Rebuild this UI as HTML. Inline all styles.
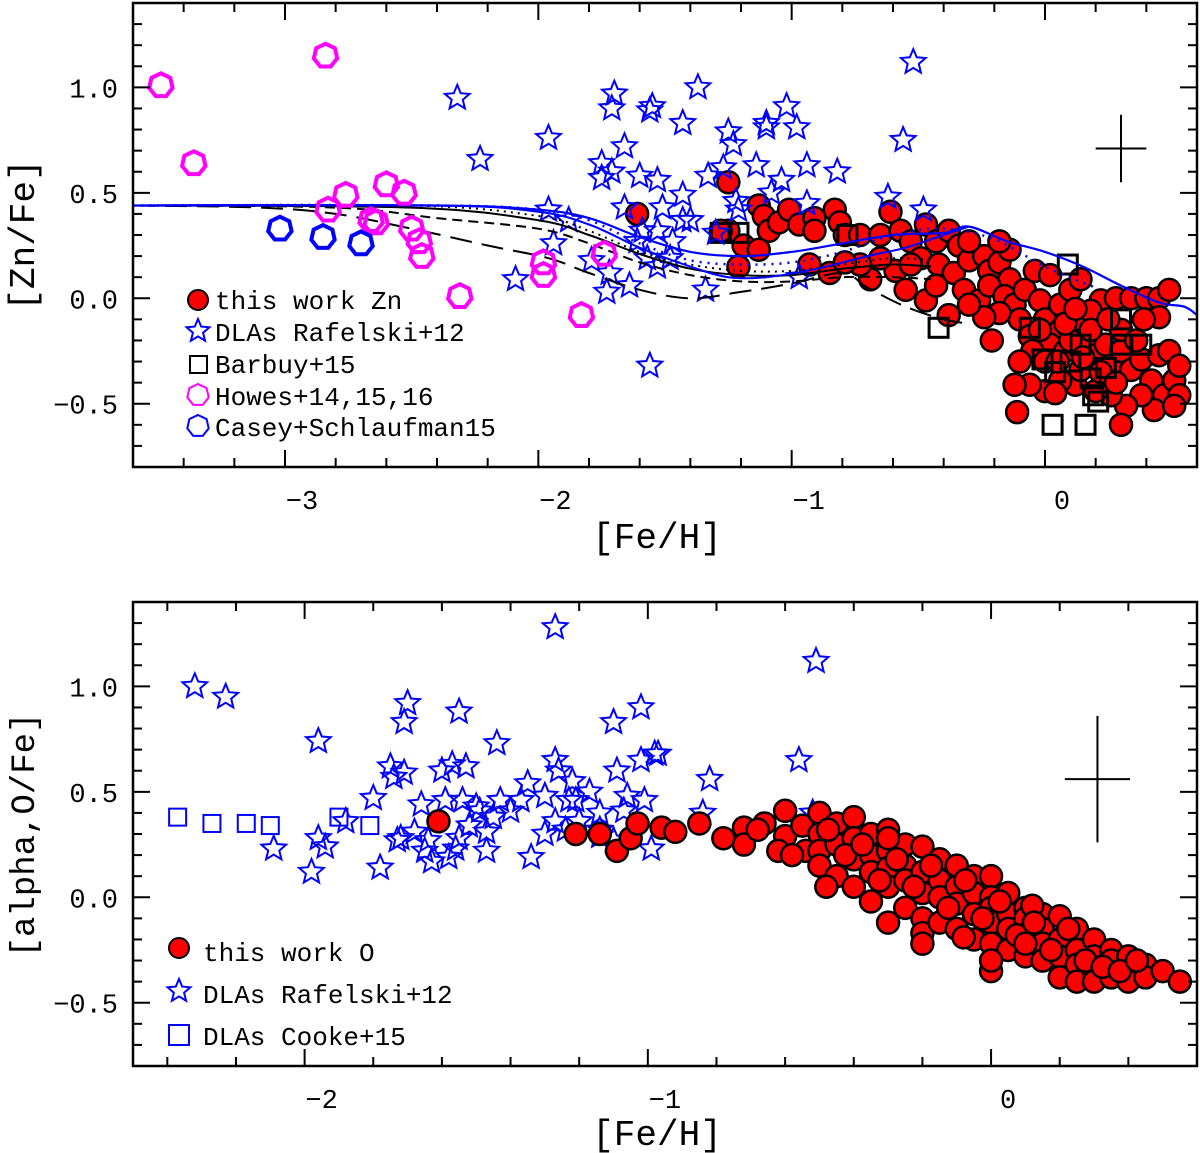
<!DOCTYPE html>
<html><head><meta charset="utf-8"><style>
html,body{margin:0;padding:0;background:#fff;}
svg{display:block;}
text{font-family:"Liberation Mono","DejaVu Sans Mono",monospace;fill:#000;}
</style></head><body>
<svg id="chart" width="1200" height="1153" viewBox="0 0 1200 1153" xmlns="http://www.w3.org/2000/svg"></svg>
<script>
// ---------- TOP PANEL DATA ([Zn/Fe] vs [Fe/H]) ----------
const topXTicks = [-3, -2, -1, 0];
const topXTickLabels = ["\u22123", "\u22122", "\u22121", "0"];
const topYTicks = [-0.5, 0.0, 0.5, 1.0];
const topYTickLabels = ["\u22120.5", "0.0", "0.5", "1.0"];

const topRedX = [-1.61,-1.25,-1.25,-1.19,-1.21,-1.13,-1.11,-1.09,-1.05,-1.01,-0.97,-0.91,-0.93,-0.85,-0.91,-0.83,-0.81,-0.79,-0.73,-0.61,-0.65,-0.57,-0.53,-0.47,-0.43,-0.38,-0.34,-0.49,-0.42,-0.36,-0.30,-0.24,-0.22,-0.18,-0.14,-0.59,-0.55,-0.47,-0.38,-0.43,-0.32,-0.26,-0.22,-0.16,-0.12,-0.08,-0.02,-0.10,-0.06,0,0.06,0.02,0.08,0.12,0.16,0.20,0.24,0.26,0.30,0.34,0.38,0.42,0.45,0.47,0.51,0.43,0.38,0.32,0.26,0.20,0.12,0.06,0,-0.06,-0.12,0.14,0.22,0.28,0.34,0.40,0.45,0.49,0.45,0.49,0.53,0.53,-0.21,-0.11,0.30,0.51,0.39,0.30,0.18,0.06,0.10,0.14,-0.04,0.02,-0.14,-0.18,-0.30,-0.65,-0.69,-0.53,-0.73,-0.79,-1.28,-1.13,-0.18,-0.24,-0.30,
 -0.05,0.0,0.05,0.10,0.15,0.22,-0.02,0.08,0.18,0.28,0.36,-0.1,0.04,0.12,0.25];
const topRedY = [0.40,0.55,0.32,0.25,0.15,0.44,0.39,0.32,0.36,0.42,0.35,0.38,0.16,0.12,0.32,0.42,0.36,0.30,0.30,0.41,0.30,0.32,0.27,0.35,0.27,0.32,0.25,0.19,0.16,0.12,0.18,0.20,0.13,0.17,0.09,0.13,0.04,-0.01,-0.08,0.06,0.04,-0.01,0.06,0.01,-0.03,0.04,-0.01,-0.10,-0.18,-0.10,-0.15,-0.22,-0.25,-0.10,-0.20,-0.27,-0.22,-0.32,-0.25,-0.34,-0.29,-0.39,-0.27,-0.46,-0.39,-0.53,-0.46,-0.51,-0.46,-0.44,-0.41,-0.39,-0.44,-0.41,-0.41,-0.34,-0.01,0,0,0,0,0.04,-0.09,-0.25,-0.32,-0.46,-0.20,-0.54,-0.60,-0.51,-0.10,-0.15,-0.06,-0.03,0.04,0.09,0.13,0.11,0.23,0.27,0.27,0.19,0.09,0.16,0.16,0.17,0.32,0.23,-0.07,-0.09,-0.03,
 -0.25,-0.30,-0.30,-0.20,-0.28,-0.35,-0.15,-0.12,-0.15,-0.40,-0.20,-0.30,-0.45,-0.05,-0.10];

const topStarX = [-2.32,-2.23,-1.96,-1.70,-1.71,-1.56,-1.55,-1.43,-1.37,-1.66,-1.75,-1.71,-1.75,-1.60,-1.53,-1.43,-1.66,-1.51,-1.96,-1.88,-1.94,-2.09,-1.73,-1.64,-1.72,-1.79,-1.59,-1.53,-1.47,-1.40,-1.43,-1.57,-1.53,-1.48,-1.34,-1.25,-1.23,-1.33,-1.27,-1.14,-1.10,-1.02,-0.98,-1.04,-0.94,-0.82,-0.94,-1.08,-0.97,-0.62,-1.22,-1.30,-1.21,-1.61,-1.56,-0.52,-0.56,-0.48,-1.10];
const topStarY = [0.95,0.66,0.76,0.97,0.90,0.89,0.91,0.83,1.00,0.72,0.64,0.60,0.57,0.58,0.56,0.49,0.43,0.43,0.42,0.37,0.26,0.09,0.03,0.06,0.12,0.18,0.32,0.32,0.27,0.37,0.37,0.19,0.15,0.19,0.04,0.79,0.73,0.58,0.62,0.63,0.83,0.91,0.81,0.56,0.63,0.60,0.45,0.50,0.10,0.48,0.46,0.31,0.42,0.27,-0.32,1.12,0.75,0.42,0.81];

const topSquareX = [-1.28,-1.21,-0.78,-0.42,0.09,-0.01,0.04,0.03,0.16,0.19,0.21,0.10,0.14,0.30,0.38,0.30,-0.06,0.18,0.24];
const topSquareY = [0.31,0.31,0.30,-0.14,0.16,-0.29,-0.35,-0.60,-0.60,-0.46,-0.49,-0.30,-0.22,-0.22,-0.22,-0.10,-0.14,-0.38,-0.33];

const howesX = [-3.49,-2.84,-3.36,-2.83,-2.76,-2.60,-2.53,-2.64,-2.66,-2.50,-2.47,-2.46,-2.31,-1.98,-1.98,-1.74,-1.83];
const howesY = [1.01,1.15,0.64,0.42,0.49,0.54,0.50,0.36,0.37,0.33,0.27,0.20,0.01,0.17,0.11,0.21,-0.08];

const caseyX = [-3.02,-2.85,-2.70];
const caseyY = [0.33,0.29,0.26];

// model curves (x, y) pairs
const modelBlueAX = [-3.6,-2.4,-2.0,-1.8,-1.6,-1.4,-1.2,-1.0,-0.8,-0.6,-0.4,-0.3,-0.15,0,0.15,0.3,0.45,0.55,0.6];
const modelBlueAY = [0.44,0.44,0.42,0.38,0.29,0.22,0.20,0.22,0.26,0.30,0.31,0.34,0.27,0.22,0.15,0.06,-0.02,-0.04,-0.08];
const modelBlueBX = [-3.6,-2.4,-2.0,-1.8,-1.6,-1.4,-1.25,-1.1,-0.9,-0.7,-0.55,-0.4,-0.3];
const modelBlueBY = [0.44,0.44,0.41,0.35,0.24,0.15,0.10,0.10,0.14,0.20,0.24,0.30,0.34];
const modelBlueDotX = [-3.6,-2.4,-2.0,-1.8,-1.6,-1.4,-1.2,-1.0,-0.8,-0.6,-0.4,-0.2,0,0.2];
const modelBlueDotY = [0.44,0.44,0.42,0.37,0.26,0.18,0.16,0.17,0.22,0.30,0.33,0.28,0.15,0.05];
const modelBlackSolidX = [-3.6,-2.5,-2.0,-1.8,-1.6,-1.4,-1.2,-1.0,-0.8,-0.6,-0.45];
const modelBlackSolidY = [0.44,0.43,0.37,0.30,0.21,0.14,0.11,0.11,0.14,0.16,0.15];
const modelBlackDotX = [-3.6,-2.5,-2.0,-1.8,-1.6,-1.4,-1.2,-1.0,-0.8,-0.6,-0.45];
const modelBlackDotY = [0.44,0.44,0.39,0.32,0.22,0.16,0.13,0.13,0.16,0.19,0.18];
const modelBlackDashX = [-3.6,-2.8,-2.4,-2.0,-1.8,-1.6,-1.4,-1.2,-1.0,-0.8,-0.6,-0.45];
const modelBlackDashY = [0.44,0.43,0.38,0.33,0.26,0.17,0.11,0.08,0.08,0.10,0.10,0.09];
const modelBlackLongX = [-3.6,-3.1,-2.8,-2.5,-2.2,-1.96,-1.8,-1.6,-1.4,-1.2,-1.0,-0.8,-0.7,-0.55,-0.4,-0.3];
const modelBlackLongY = [0.44,0.43,0.40,0.33,0.25,0.19,0.12,0.04,0.00,0.03,0.07,0.12,0.05,-0.04,-0.10,-0.12];

// ---------- BOTTOM PANEL DATA ([alpha,O/Fe] vs [Fe/H]) ----------
const botXTicks = [-2, -1, 0];
const botXTickLabels = ["\u22122", "\u22121", "0"];
const botYTicks = [-0.5, 0.0, 0.5, 1.0];
const botYTickLabels = ["\u22120.5", "0.0", "0.5", "1.0"];

const botStarX = [-2.32,-2.23,-1.96,-1.70,-1.71,-1.55,-1.80,-1.75,-1.74,-1.71,-1.66,-1.60,-1.57,-1.53,-1.59,-1.54,-1.50,-1.88,-2.09,-1.96,-1.94,-1.98,-1.78,-1.72,-1.73,-1.65,-1.63,-1.55,-1.58,-1.56,-1.27,-0.51,-0.56,-0.82,-0.98,-1.02,-1.10,-1.44,-1.35,-1.30,-1.27,-1.26,-1.22,-1.21,-1.17,-1.09,-1.06,-1.02,-1.01,-0.97,-0.99,-1.07,-1.10,-1.37,-1.40,-1.47,-1.47,-1.45,-1.34,-1.23,-1.20,-1.14,-1.14,-1.64,-1.68,-1.52,-1.49,-1.43,-1.27,-1.14,-0.84,-0.52,-1.30,-1.24];
const botStarY = [1.00,0.95,0.74,0.92,0.83,0.88,0.47,0.62,0.57,0.59,0.44,0.60,0.63,0.62,0.46,0.46,0.43,0.36,0.23,0.28,0.24,0.12,0.14,0.28,0.27,0.22,0.17,0.28,0.19,0.23,1.28,1.12,0.65,0.56,0.68,0.90,0.83,0.73,0.54,0.48,0.65,0.60,0.55,0.46,0.50,0.60,0.48,0.65,0.46,0.68,0.23,0.41,0.27,0.46,0.41,0.31,0.22,0.38,0.19,0.46,0.36,0.32,0.40,0.27,0.31,0.34,0.41,0.46,0.36,0.29,0.40,0.40,0.30,0.32];

const cookeX = [-2.37,-2.27,-2.17,-2.10,-1.90,-1.81];
const cookeY = [0.38,0.35,0.35,0.34,0.38,0.34];

const botRedX = [-1.61,-1.09,-1.21,-1.14,-1.05,-1.03,-0.96,-0.92,-0.85,-0.72,-0.72,-0.66,-0.60,-0.60,-0.55,-0.54,-0.78,-0.68,-0.62,-0.58,
 -0.5,-0.5,-0.5,-0.5,-0.45,-0.45,-0.45,-0.40,-0.40,-0.40,-0.40,-0.35,-0.35,-0.35,-0.35,-0.30,-0.30,-0.30,-0.30,-0.30,
 -0.25,-0.25,-0.25,-0.25,-0.20,-0.20,-0.20,-0.20,-0.20,-0.15,-0.15,-0.15,-0.15,-0.10,-0.10,-0.10,-0.10,-0.05,-0.05,-0.05,-0.05,
 0,0,0,0,0,0,0.05,0.05,0.05,0.05,0.10,0.10,0.10,0.10,0.15,0.15,0.15,0.15,0.20,0.20,0.20,0.20,0.25,0.25,0.25,0.25,
 0.30,0.30,0.30,0.30,0.35,0.35,0.35,0.40,0.40,0.40,0.45,0.45,0.50,0.55,-0.08,0.12,
 -0.475,-0.425,-0.375,-0.325,-0.275,-0.225,-0.175,-0.125,-0.075,-0.025,0.025,0.075,0.125,0.175,0.225,0.275,0.325,0.375,0.425,-0.2,0.1,-0.48,-0.3,0.0];
const botRedY = [0.36,0.22,0.30,0.30,0.28,0.35,0.33,0.31,0.35,0.33,0.25,0.35,0.41,0.29,0.34,0.22,0.28,0.32,0.22,0.20,
 0.40,0.30,0.22,0.15,0.35,0.25,0.10,0.38,0.28,0.18,0.05,0.30,0.20,0.12,-0.02,0.32,0.22,0.14,0.05,-0.12,
 0.25,0.15,0.08,-0.05,0.24,0.12,0.02,-0.10,-0.17,0.18,0.08,0.00,-0.12,0.15,0.05,-0.03,-0.15,0.10,0.02,-0.08,-0.20,
 0.10,0.00,-0.05,-0.12,-0.22,-0.35,0.02,-0.08,-0.15,-0.25,-0.05,-0.10,-0.18,-0.28,-0.08,-0.15,-0.22,-0.30,-0.09,-0.20,-0.28,-0.38,-0.15,-0.25,-0.32,-0.40,
 -0.20,-0.28,-0.35,-0.40,-0.25,-0.30,-0.38,-0.28,-0.35,-0.40,-0.32,-0.38,-0.35,-0.40,-0.19,-0.04,
 0.32,0.20,0.25,0.08,0.18,0.05,0.15,-0.05,0.08,-0.10,-0.02,-0.18,-0.12,-0.25,-0.15,-0.30,-0.33,-0.35,-0.30,-0.22,-0.22,0.05,0.28,-0.30];

// ---------- RENDERING ----------
const NS = "http://www.w3.org/2000/svg";
const svg = document.getElementById("chart");
function mk(tag, attrs, parent) {
  const e = document.createElementNS(NS, tag);
  for (const k in attrs) e.setAttribute(k, attrs[k]);
  (parent || svg).appendChild(e);
  return e;
}
function makeScale(d0, d1, p0, p1) { return v => p0 + (v - d0) * (p1 - p0) / (d1 - d0); }

const topP = {x0:133, x1:1197, y0:3, y1:467, xmin:-3.6, xmax:0.6, ymin:-0.8, ymax:1.4};
const botP = {x0:133, x1:1197, y0:602, y1:1066, xmin:-2.5, xmax:0.6, ymin:-0.8, ymax:1.4};
[topP, botP].forEach(p => {
  p.sx = makeScale(p.xmin, p.xmax, p.x0, p.x1);
  p.sy = makeScale(p.ymin, p.ymax, p.y1, p.y0);
});

function drawAxes(p, g, xt, xl, yt, yl) {
  const fr = mk("rect", {x:p.x0, y:p.y0, width:p.x1-p.x0, height:p.y1-p.y0, fill:"none", stroke:"#000", "stroke-width":2.5}, g);
  
  
  const nx0 = Math.ceil(p.xmin / 0.2 - 1e-6), nx1 = Math.floor(p.xmax / 0.2 + 1e-6);
  for (let i = nx0; i <= nx1; i++) {
    const v = i * 0.2, px = p.sx(v);
    const major = Math.abs(v - Math.round(v)) < 1e-6;
    const L = major ? 17 : 9;
    mk("line", {x1:px, x2:px, y1:p.y1, y2:p.y1-L, stroke:"#000", "stroke-width":2}, g);
    mk("line", {x1:px, x2:px, y1:p.y0, y2:p.y0+L, stroke:"#000", "stroke-width":2}, g);
  }
  const ny0 = Math.ceil(p.ymin / 0.1 - 1e-6), ny1 = Math.floor(p.ymax / 0.1 + 1e-6);
  for (let i = ny0; i <= ny1; i++) {
    const v = i * 0.1, py = p.sy(v);
    const major = Math.abs(v * 2 - Math.round(v * 2)) < 1e-6;
    const L = major ? 17 : 9;
    mk("line", {x1:p.x0, x2:p.x0+L, y1:py, y2:py, stroke:"#000", "stroke-width":2}, g);
    mk("line", {x1:p.x1, x2:p.x1-L, y1:py, y2:py, stroke:"#000", "stroke-width":2}, g);
  }
  xt.forEach((v, i) => {
    const t = mk("text", {x:p.sx(v)+17, y:p.y1+42, "font-size":27, "text-anchor":"middle"}, g);
    t.textContent = xl[i];
    
    
  });
  yt.forEach((v, i) => {
    const t = mk("text", {x:118, y:p.sy(v)+10, "font-size":27, "text-anchor":"end"}, g);
    t.textContent = yl[i];
    
    
  });
}

function starPath(cx, cy, R) {
  const r = R * 0.45; let d = "";
  for (let i = 0; i < 10; i++) {
    const a = -Math.PI/2 + i * Math.PI/5, rr = i % 2 ? r : R;
    d += (i ? "L" : "M") + (cx + rr*Math.cos(a)).toFixed(1) + "," + (cy + rr*Math.sin(a)).toFixed(1);
  }
  return d + "Z";
}
function heptPath(cx, cy, R) {
  let d = "";
  for (let i = 0; i < 7; i++) {
    const a = -Math.PI/2 + i * 2*Math.PI/7;
    d += (i ? "L" : "M") + (cx + R*Math.cos(a)).toFixed(1) + "," + (cy + R*Math.sin(a)).toFixed(1);
  }
  return d + "Z";
}
function drawStars(p, xs, ys, g) {
  xs.forEach((x, i) => {
    const s = mk("path", {d:starPath(p.sx(x), p.sy(ys[i]), 13), fill:"none", stroke:"#0000ff", "stroke-width":2}, g);
    
    
  });
}
function drawReds(p, xs, ys, g) {
  xs.forEach((x, i) => {
    const c = mk("circle", {cx:p.sx(x), cy:p.sy(ys[i]), r:11, fill:"#ff0000", stroke:"#000", "stroke-width":2.5}, g);
    
    
  });
}
function drawSquares(p, xs, ys, g, col, sw, sz) {
  xs.forEach((x, i) => {
    const q = mk("rect", {x:p.sx(x)-sz/2, y:p.sy(ys[i])-sz/2, width:sz, height:sz, fill:"none", stroke:col, "stroke-width":sw}, g);
    
    
  });
}
function drawHepts(p, xs, ys, g, col, name) {
  xs.forEach((x, i) => {
    const h = mk("path", {d:heptPath(p.sx(x), p.sy(ys[i]), 12), fill:"none", stroke:col, "stroke-width":4}, g);
    
    
  });
}
function drawCurve(p, xs, ys, g, col, dash, name, w) {
  const pts = xs.map((x, i) => [p.sx(x), p.sy(ys[i])]);
  let d = "M" + pts[0][0] + "," + pts[0][1];
  for (let i = 0; i < pts.length - 1; i++) {
    const p0 = pts[Math.max(0, i-1)], p1 = pts[i], p2 = pts[i+1], p3 = pts[Math.min(pts.length-1, i+2)];
    const c1 = [p1[0] + (p2[0]-p0[0])/6, p1[1] + (p2[1]-p0[1])/6];
    const c2 = [p2[0] - (p3[0]-p1[0])/6, p2[1] - (p3[1]-p1[1])/6];
    d += "C" + c1[0].toFixed(1) + "," + c1[1].toFixed(1) + " " + c2[0].toFixed(1) + "," + c2[1].toFixed(1) + " " + p2[0].toFixed(1) + "," + p2[1].toFixed(1);
  }
  const a = {d:d, fill:"none", stroke:col, "stroke-width":w || 2};
  if (dash) a["stroke-dasharray"] = dash;
  const e = mk("path", a, g);
  
  
}
function drawCross(p, cx, cy, hx, hy, g) {
  const c = mk("g", {stroke:"#000", "stroke-width":2}, g);
  
  
  mk("line", {x1:p.sx(cx-hx), x2:p.sx(cx+hx), y1:p.sy(cy), y2:p.sy(cy)}, c);
  mk("line", {x1:p.sx(cx), x2:p.sx(cx), y1:p.sy(cy-hy), y2:p.sy(cy+hy)}, c);
}
function legendText(x, y, str, g) {
  const t = mk("text", {x:x, y:y, "font-size":26}, g);
  t.textContent = str;
  
  
}

// ---- TOP PANEL ----
const gTop = mk("g", {});


drawReds(topP, topRedX, topRedY, gTop);
drawSquares(topP, topSquareX, topSquareY, gTop, "#000", 3, 19);
drawStars(topP, topStarX, topStarY, gTop);
drawCurve(topP, modelBlackLongX, modelBlackLongY, gTop, "#000", "22,10", "model-long-dash");
drawCurve(topP, modelBlackDashX, modelBlackDashY, gTop, "#000", "10,6", "model-short-dash");
drawCurve(topP, modelBlackSolidX, modelBlackSolidY, gTop, "#000", null, "model-black-solid");
drawCurve(topP, modelBlackDotX, modelBlackDotY, gTop, "#000", "2,5", "model-black-dotted");
drawCurve(topP, modelBlueBX, modelBlueBY, gTop, "#0000ff", null, "model-blue-lower");
drawCurve(topP, modelBlueDotX, modelBlueDotY, gTop, "#0000ff", "2,6", "model-blue-dotted", 2.5);
drawCurve(topP, modelBlueAX, modelBlueAY, gTop, "#0000ff", null, "model-blue-upper", 2.2);
drawHepts(topP, howesX, howesY, gTop, "#ff00ff", "howes-point");
drawHepts(topP, caseyX, caseyY, gTop, "#0000ff", "casey-point");
drawCross(topP, 0.30, 0.71, 0.10, 0.16, gTop);
drawAxes(topP, gTop, topXTicks, topXTickLabels, topYTicks, topYTickLabels);

const lgT = mk("g", {});


mk("circle", {cx:198, cy:300, r:10, fill:"#ff0000", stroke:"#000", "stroke-width":2}, lgT);
legendText(215, 309, "this work Zn", lgT);
mk("path", {d:starPath(198, 331, 12), fill:"none", stroke:"#0000ff", "stroke-width":2}, lgT);
legendText(215, 341, "DLAs Rafelski+12", lgT);
mk("rect", {x:190, y:356, width:17, height:17, fill:"none", stroke:"#000", "stroke-width":2}, lgT);
legendText(215, 373, "Barbuy+15", lgT);
mk("path", {d:heptPath(198, 395, 11), fill:"none", stroke:"#ff00ff", "stroke-width":2}, lgT);
legendText(215, 405, "Howes+14,15,16", lgT);
mk("path", {d:heptPath(198, 426, 11), fill:"none", stroke:"#0000ff", "stroke-width":2}, lgT);
legendText(215, 436, "Casey+Schlaufman15", lgT);

const xt1 = mk("text", {x:657, y:548, "font-size":36, "text-anchor":"middle"});
xt1.textContent = "[Fe/H]";


const yt1 = mk("text", {x:0, y:0, "font-size":36, "text-anchor":"middle", transform:"translate(34,235) rotate(-90)"});
yt1.textContent = "[Zn/Fe]";



// ---- BOTTOM PANEL ----
const gBot = mk("g", {});


drawSquares(botP, cookeX, cookeY, gBot, "#0000ff", 2, 17);
drawStars(botP, botStarX, botStarY, gBot);
drawReds(botP, botRedX, botRedY, gBot);
drawCross(botP, 0.31, 0.56, 0.095, 0.30, gBot);
drawAxes(botP, gBot, botXTicks, botXTickLabels, botYTicks, botYTickLabels);

const lgB = mk("g", {});


mk("circle", {cx:179, cy:948, r:10, fill:"#ff0000", stroke:"#000", "stroke-width":2}, lgB);
legendText(203, 961, "this work O", lgB);
mk("path", {d:starPath(179, 991, 12), fill:"none", stroke:"#0000ff", "stroke-width":2}, lgB);
legendText(203, 1003, "DLAs Rafelski+12", lgB);
mk("rect", {x:169, y:1025, width:20, height:20, fill:"none", stroke:"#0000ff", "stroke-width":2}, lgB);
legendText(203, 1045, "DLAs Cooke+15", lgB);

const xt2 = mk("text", {x:657, y:1145, "font-size":36, "text-anchor":"middle"});
xt2.textContent = "[Fe/H]";


const yt2 = mk("text", {x:0, y:0, "font-size":34, "text-anchor":"middle", transform:"translate(34,835) rotate(-90)"});
yt2.textContent = "[alpha,O/Fe]";


</script>
</body></html>
